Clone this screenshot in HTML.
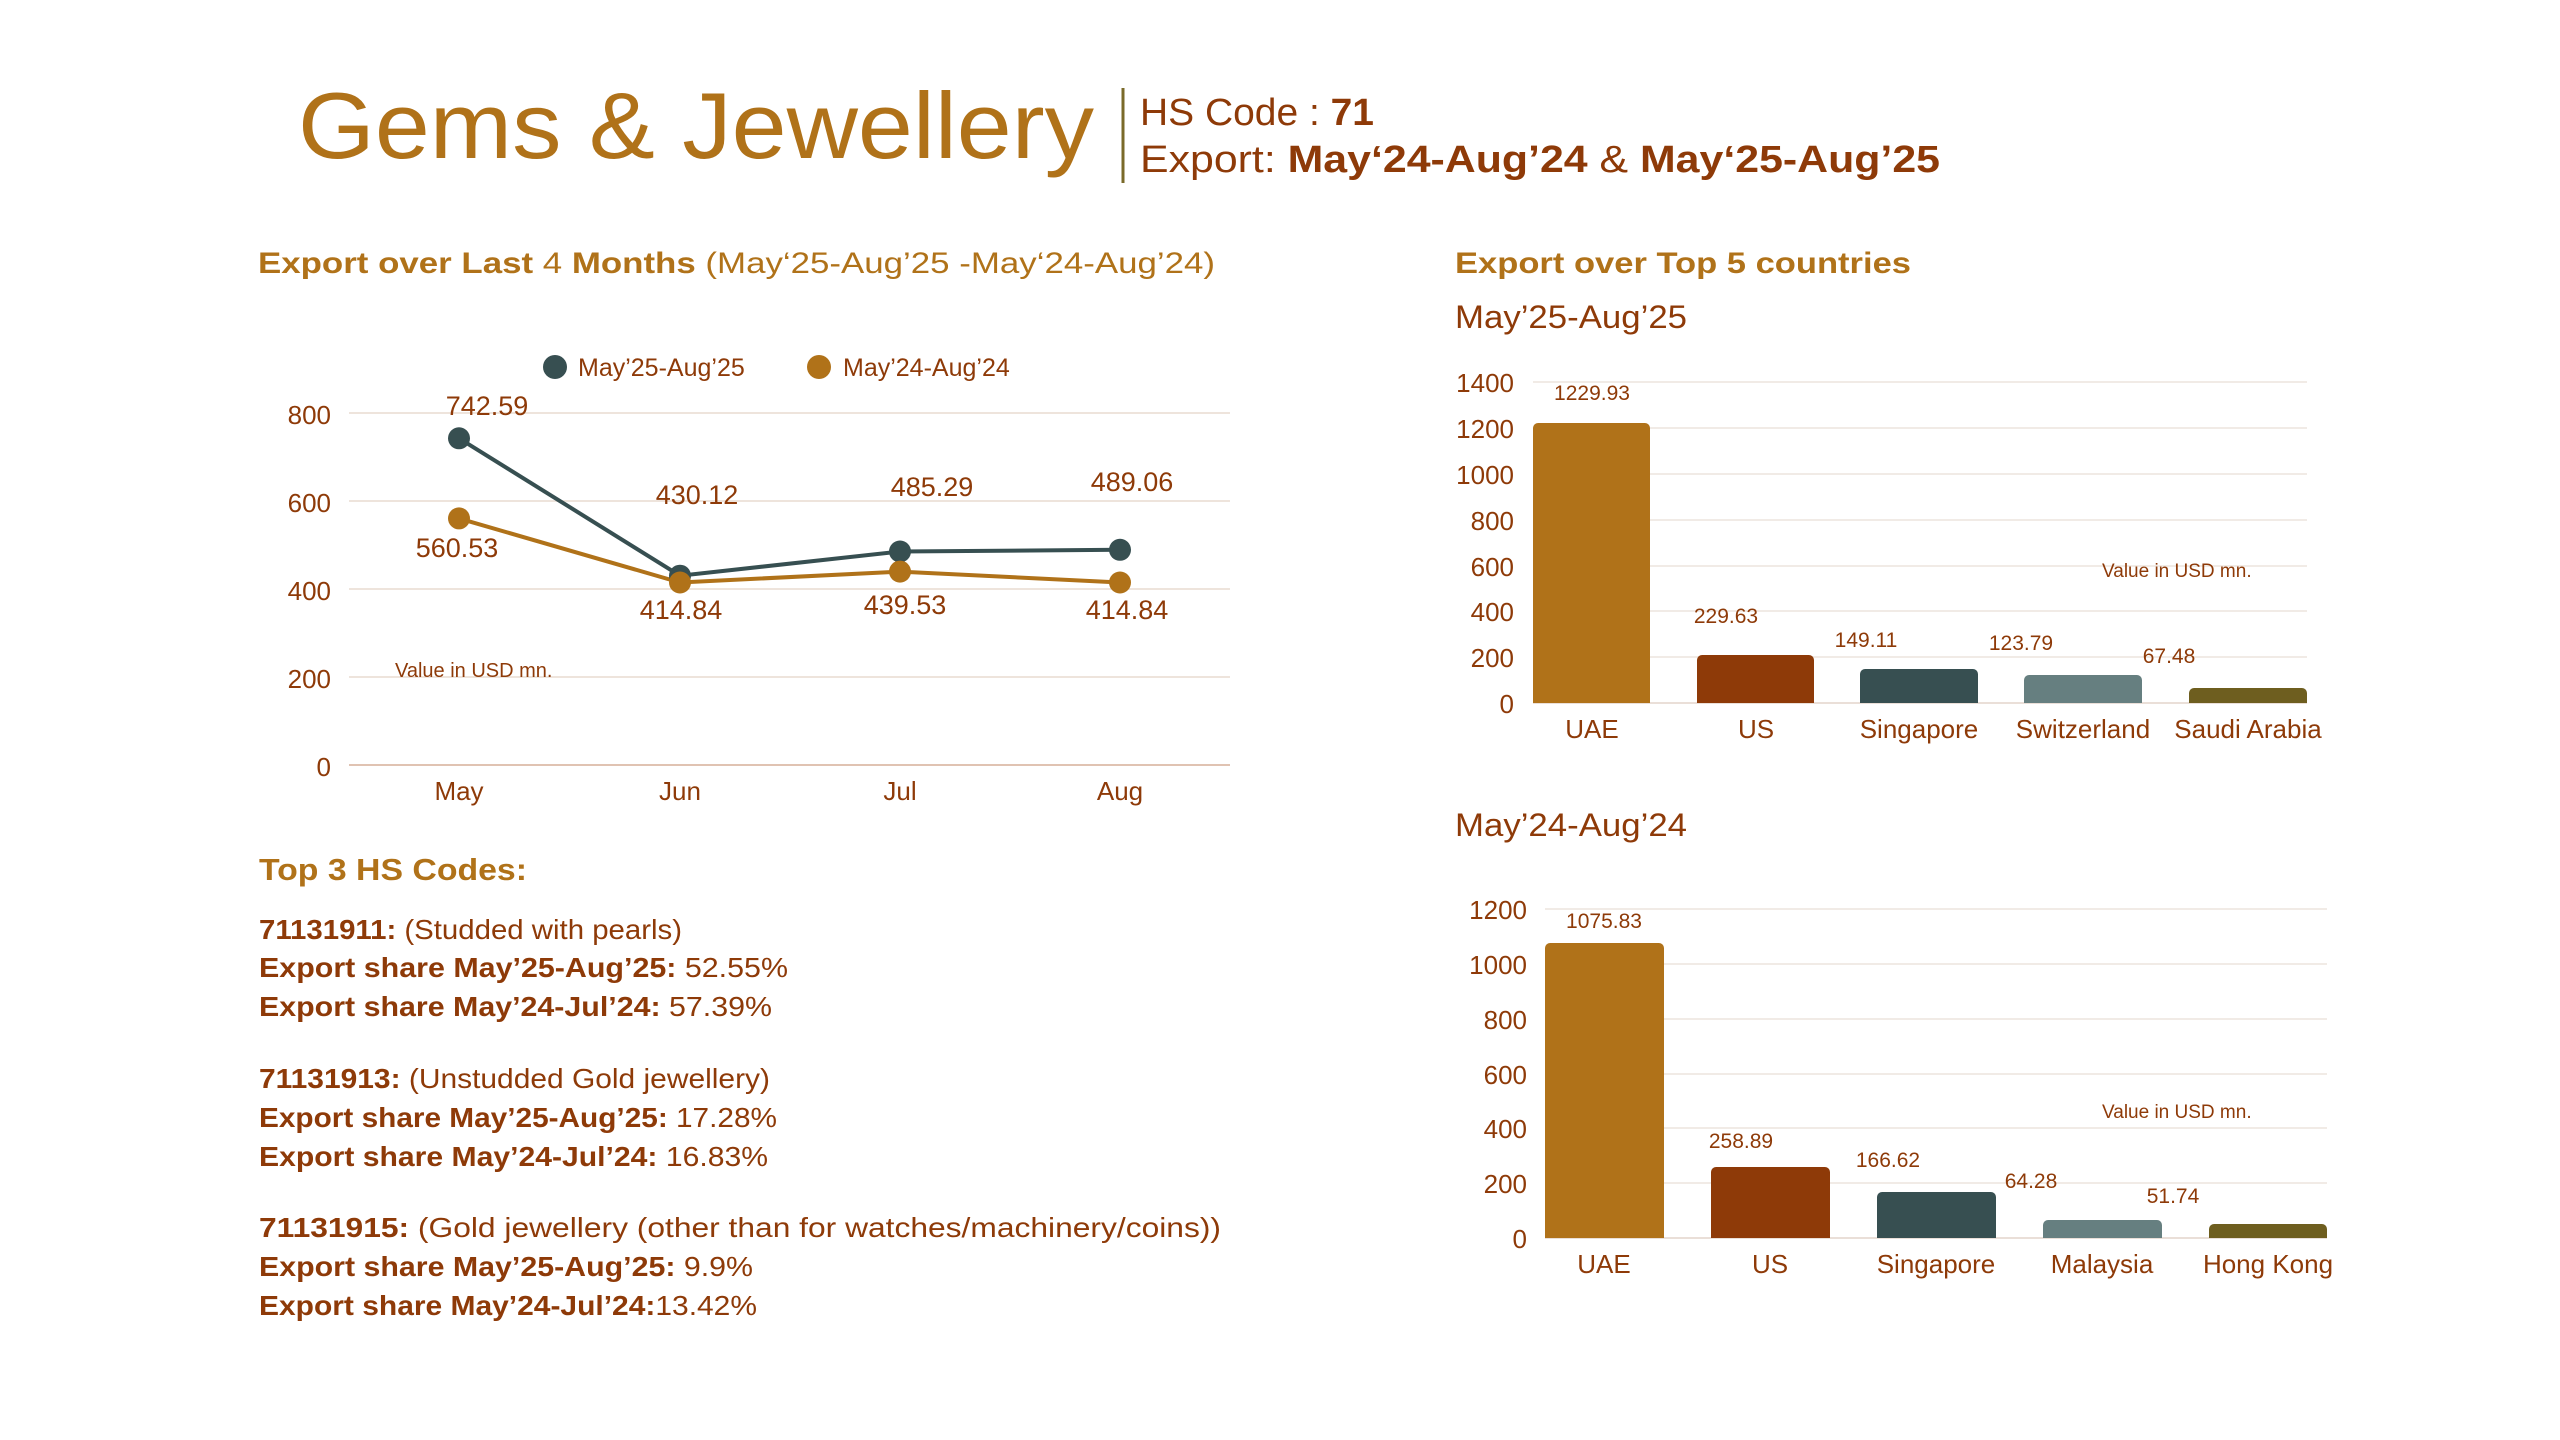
<!DOCTYPE html>
<html><head><meta charset="utf-8"><style>
html,body{margin:0;padding:0;background:#fff;}
svg{display:block;}
text{font-family:"Liberation Sans",sans-serif;}
</style></head><body>
<svg width="2560" height="1440" viewBox="0 0 2560 1440" xmlns="http://www.w3.org/2000/svg">
<rect width="2560" height="1440" fill="#fff"/>
<!-- Header -->
<text x="298" y="158" font-size="94" fill="#B07219" textLength="796" lengthAdjust="spacingAndGlyphs">Gems &amp; Jewellery</text>
<line x1="1123" y1="88" x2="1123" y2="183" stroke="#7a6a2a" stroke-width="3"/>
<text x="1140" y="125" font-size="38" fill="#8E3A08" textLength="234" lengthAdjust="spacingAndGlyphs">HS Code : <tspan font-weight="bold">71</tspan></text>
<text x="1140" y="172" font-size="38" fill="#8E3A08" textLength="800" lengthAdjust="spacingAndGlyphs">Export: <tspan font-weight="bold">May‘24-Aug’24</tspan> &amp; <tspan font-weight="bold">May‘25-Aug’25</tspan></text>

<!-- Section headings -->
<text x="258" y="273" font-size="30" fill="#B07219" textLength="957" lengthAdjust="spacingAndGlyphs"><tspan font-weight="bold">Export over Last</tspan> 4 <tspan font-weight="bold">Months</tspan> (May‘25-Aug’25 -May‘24-Aug’24)</text>
<text x="1455" y="273" font-size="30" fill="#B07219" font-weight="bold" textLength="456" lengthAdjust="spacingAndGlyphs">Export over Top 5 countries</text>
<text x="1455" y="328" font-size="32" fill="#8E3A08" textLength="232" lengthAdjust="spacingAndGlyphs">May’25-Aug’25</text>
<text x="1455" y="836" font-size="32" fill="#8E3A08" textLength="232" lengthAdjust="spacingAndGlyphs">May’24-Aug’24</text>

<!-- Line chart -->
<g stroke="#eee4dc" stroke-width="2">
<line x1="349" y1="413" x2="1230" y2="413"/>
<line x1="349" y1="501" x2="1230" y2="501"/>
<line x1="349" y1="589" x2="1230" y2="589"/>
<line x1="349" y1="677" x2="1230" y2="677"/>
</g>
<line x1="349" y1="765" x2="1230" y2="765" stroke="#e0c3b2" stroke-width="2"/>
<g font-size="26" fill="#8E3A08" text-anchor="end">
<text x="331" y="424">800</text><text x="331" y="512">600</text><text x="331" y="600">400</text><text x="331" y="688">200</text><text x="331" y="776">0</text>
</g>
<g font-size="26" fill="#8E3A08" text-anchor="middle">
<text x="459" y="800">May</text><text x="680" y="800">Jun</text><text x="900" y="800">Jul</text><text x="1120" y="800">Aug</text>
</g>
<circle cx="555" cy="367" r="12" fill="#374F51"/>
<text x="578" y="376" font-size="25" fill="#8E3A08">May’25-Aug’25</text>
<circle cx="819" cy="367" r="12" fill="#B07219"/>
<text x="843" y="376" font-size="25" fill="#8E3A08">May’24-Aug’24</text>
<polyline points="459,518.4 680,582.5 900,571.6 1120,582.5" fill="none" stroke="#B07219" stroke-width="4"/>
<polyline points="459,438.3 680,575.7 900,551.5 1120,549.8" fill="none" stroke="#374F51" stroke-width="4"/>
<g fill="#374F51"><circle cx="459" cy="438.3" r="11"/><circle cx="680" cy="575.7" r="11"/><circle cx="900" cy="551.5" r="11"/><circle cx="1120" cy="549.8" r="11"/></g>
<g fill="#B07219"><circle cx="459" cy="518.4" r="11"/><circle cx="680" cy="582.5" r="11"/><circle cx="900" cy="571.6" r="11"/><circle cx="1120" cy="582.5" r="11"/></g>
<g font-size="27" fill="#8E3A08" text-anchor="middle">
<text x="487" y="415">742.59</text><text x="697" y="504">430.12</text><text x="932" y="496">485.29</text><text x="1132" y="491">489.06</text>
<text x="457" y="557">560.53</text><text x="681" y="619">414.84</text><text x="905" y="614">439.53</text><text x="1127" y="619">414.84</text>
</g>
<text x="395" y="677" font-size="20" fill="#8E3A08">Value in USD mn.</text>

<!-- Bar chart 1 -->
<g stroke="#f1ebe6" stroke-width="2">
<line x1="1533" y1="382" x2="2307" y2="382"/><line x1="1533" y1="428" x2="2307" y2="428"/><line x1="1533" y1="474" x2="2307" y2="474"/><line x1="1533" y1="520" x2="2307" y2="520"/><line x1="1533" y1="566" x2="2307" y2="566"/><line x1="1533" y1="611" x2="2307" y2="611"/><line x1="1533" y1="657" x2="2307" y2="657"/>
</g>
<line x1="1533" y1="703" x2="2307" y2="703" stroke="#eadfd8" stroke-width="2"/>
<g font-size="26" fill="#8E3A08" text-anchor="end">
<text x="1514" y="392">1400</text><text x="1514" y="438">1200</text><text x="1514" y="484">1000</text><text x="1514" y="530">800</text><text x="1514" y="576">600</text><text x="1514" y="621">400</text><text x="1514" y="667">200</text><text x="1514" y="713">0</text>
</g>
<path d="M1533,703 V428 a5,5 0 0 1 5,-5 H1645 a5,5 0 0 1 5,5 V703 Z" fill="#B07219"/>
<path d="M1697,703 V660 a5,5 0 0 1 5,-5 H1809 a5,5 0 0 1 5,5 V703 Z" fill="#8E3A08"/>
<path d="M1860,703 V674 a5,5 0 0 1 5,-5 H1973 a5,5 0 0 1 5,5 V703 Z" fill="#374F51"/>
<path d="M2024,703 V680 a5,5 0 0 1 5,-5 H2137 a5,5 0 0 1 5,5 V703 Z" fill="#667F80"/>
<path d="M2189,703 V693 a5,5 0 0 1 5,-5 H2302 a5,5 0 0 1 5,5 V703 Z" fill="#6E5E1F"/>
<g font-size="21" fill="#8E3A08" text-anchor="middle">
<text x="1592" y="400">1229.93</text><text x="1726" y="623">229.63</text><text x="1866" y="647">149.11</text><text x="2021" y="650">123.79</text><text x="2169" y="663">67.48</text>
</g>
<g font-size="26" fill="#8E3A08" text-anchor="middle">
<text x="1592" y="738">UAE</text><text x="1756" y="738">US</text><text x="1919" y="738">Singapore</text><text x="2083" y="738">Switzerland</text><text x="2248" y="738">Saudi Arabia</text>
</g>
<text x="2102" y="577" font-size="19" fill="#8E3A08">Value in USD mn.</text>

<!-- Bar chart 2 -->
<g stroke="#f1ebe6" stroke-width="2">
<line x1="1545" y1="909" x2="2327" y2="909"/><line x1="1545" y1="964" x2="2327" y2="964"/><line x1="1545" y1="1019" x2="2327" y2="1019"/><line x1="1545" y1="1074" x2="2327" y2="1074"/><line x1="1545" y1="1128" x2="2327" y2="1128"/><line x1="1545" y1="1183" x2="2327" y2="1183"/>
</g>
<line x1="1545" y1="1238" x2="2327" y2="1238" stroke="#eadfd8" stroke-width="2"/>
<g font-size="26" fill="#8E3A08" text-anchor="end">
<text x="1527" y="919">1200</text><text x="1527" y="974">1000</text><text x="1527" y="1029">800</text><text x="1527" y="1084">600</text><text x="1527" y="1138">400</text><text x="1527" y="1193">200</text><text x="1527" y="1248">0</text>
</g>
<path d="M1545,1238 V948 a5,5 0 0 1 5,-5 H1659 a5,5 0 0 1 5,5 V1238 Z" fill="#B07219"/>
<path d="M1711,1238 V1172 a5,5 0 0 1 5,-5 H1825 a5,5 0 0 1 5,5 V1238 Z" fill="#8E3A08"/>
<path d="M1877,1238 V1197 a5,5 0 0 1 5,-5 H1991 a5,5 0 0 1 5,5 V1238 Z" fill="#374F51"/>
<path d="M2043,1238 V1225 a5,5 0 0 1 5,-5 H2157 a5,5 0 0 1 5,5 V1238 Z" fill="#667F80"/>
<path d="M2209,1238 V1229 a5,5 0 0 1 5,-5 H2322 a5,5 0 0 1 5,5 V1238 Z" fill="#6E5E1F"/>
<g font-size="21" fill="#8E3A08" text-anchor="middle">
<text x="1604" y="928">1075.83</text><text x="1741" y="1148">258.89</text><text x="1888" y="1167">166.62</text><text x="2031" y="1188">64.28</text><text x="2173" y="1203">51.74</text>
</g>
<g font-size="26" fill="#8E3A08" text-anchor="middle">
<text x="1604" y="1273">UAE</text><text x="1770" y="1273">US</text><text x="1936" y="1273">Singapore</text><text x="2102" y="1273">Malaysia</text><text x="2268" y="1273">Hong Kong</text>
</g>
<text x="2102" y="1118" font-size="19" fill="#8E3A08">Value in USD mn.</text>

<!-- Top 3 HS codes -->
<text x="259" y="880" font-size="31" fill="#B07219" font-weight="bold" textLength="268" lengthAdjust="spacingAndGlyphs">Top 3 HS Codes:</text>
<g font-size="28" fill="#8E3A08">
<text x="259" y="939" textLength="423" lengthAdjust="spacingAndGlyphs"><tspan font-weight="bold">71131911:</tspan> (Studded with pearls)</text>
<text x="259" y="977" textLength="529" lengthAdjust="spacingAndGlyphs"><tspan font-weight="bold">Export share May’25-Aug’25:</tspan> 52.55%</text>
<text x="259" y="1016" textLength="513" lengthAdjust="spacingAndGlyphs"><tspan font-weight="bold">Export share May’24-Jul’24:</tspan> 57.39%</text>
<text x="259" y="1088" textLength="511" lengthAdjust="spacingAndGlyphs"><tspan font-weight="bold">71131913:</tspan> (Unstudded Gold jewellery)</text>
<text x="259" y="1127" textLength="518" lengthAdjust="spacingAndGlyphs"><tspan font-weight="bold">Export share May’25-Aug’25:</tspan> 17.28%</text>
<text x="259" y="1166" textLength="509" lengthAdjust="spacingAndGlyphs"><tspan font-weight="bold">Export share May’24-Jul’24:</tspan> 16.83%</text>
<text x="259" y="1237" textLength="962" lengthAdjust="spacingAndGlyphs"><tspan font-weight="bold">71131915:</tspan> (Gold jewellery (other than for watches/machinery/coins))</text>
<text x="259" y="1276" textLength="494" lengthAdjust="spacingAndGlyphs"><tspan font-weight="bold">Export share May’25-Aug’25:</tspan> 9.9%</text>
<text x="259" y="1315" textLength="498" lengthAdjust="spacingAndGlyphs"><tspan font-weight="bold">Export share May’24-Jul’24:</tspan>13.42%</text>
</g>
</svg>
</body></html>
